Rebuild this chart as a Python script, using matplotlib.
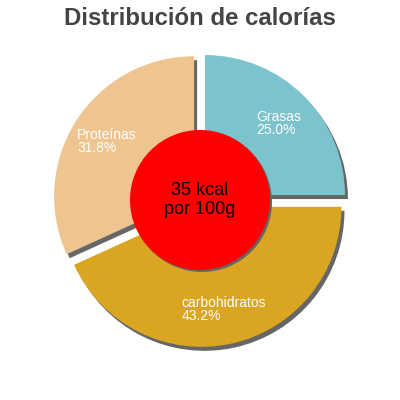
import numpy as np
import matplotlib
matplotlib.use('Agg')
import matplotlib.pyplot as plt
from matplotlib.patches import Circle

plt.rcParams['font.family'] = ['Liberation Sans', 'DejaVu Sans']

# data
labels = ['Grasas', 'carbohidratos', 'Proteínas']
values = [25.0, 43.2, 31.8]
colors = ['#7cc4cd', '#daa520', '#eec591']
center_text = '35 kcal\npor 100g'
title = 'Distribución de calorías'

R = 140
C = (200, 200)
expl = [7] * len(values)   # pie explode is in data units here (pixels)

fig = plt.figure(figsize=(4, 4), dpi=100)
ax = fig.add_axes([0, 0, 1, 1])

# shadow pie
ax.pie(values, colors=['#666666'] * len(values), startangle=90, counterclock=False,
       radius=R, center=(C[0] + 3, C[1] - 4), explode=expl,
       wedgeprops=dict(linewidth=0), frame=True)
wedges, _ = ax.pie(values, colors=colors, startangle=90, counterclock=False,
                   radius=R, center=C, explode=expl,
                   wedgeprops=dict(linewidth=0), frame=True)
ax.set_xlim(0, 400)
ax.set_ylim(0, 400)
ax.set_aspect('equal')
ax.axis('off')

# label: first line baseline sits on the arc centroid
for w, lab, v in zip(wedges, labels, values):
    ang = np.deg2rad((w.theta1 + w.theta2) / 2)
    cx, cy = w.center
    x = cx + 0.74 * w.r * np.cos(ang)
    y = cy + 0.74 * w.r * np.sin(ang)
    ax.annotate(lab + '\n' + '%.1f%%' % v, (x, y), xytext=(0, 8.6),
                textcoords='offset points', color='white', fontsize=10,
                ha='center', va='top', multialignment='left', linespacing=0.88)

ax.add_patch(Circle((C[0] + 2, C[1] - 2), 70, color='#666666', lw=0))
ax.add_patch(Circle(C, 70, color='#ff0000', lw=0))
ax.text(C[0], C[1], center_text, ha='center', va='center', fontsize=13, color='black')

fig.text(0.5, 1 - 25 / 400, title, ha='center', va='baseline', fontsize=17.3,
         fontweight='bold', color='#444444')

fig.savefig('out.png', dpi=100)
